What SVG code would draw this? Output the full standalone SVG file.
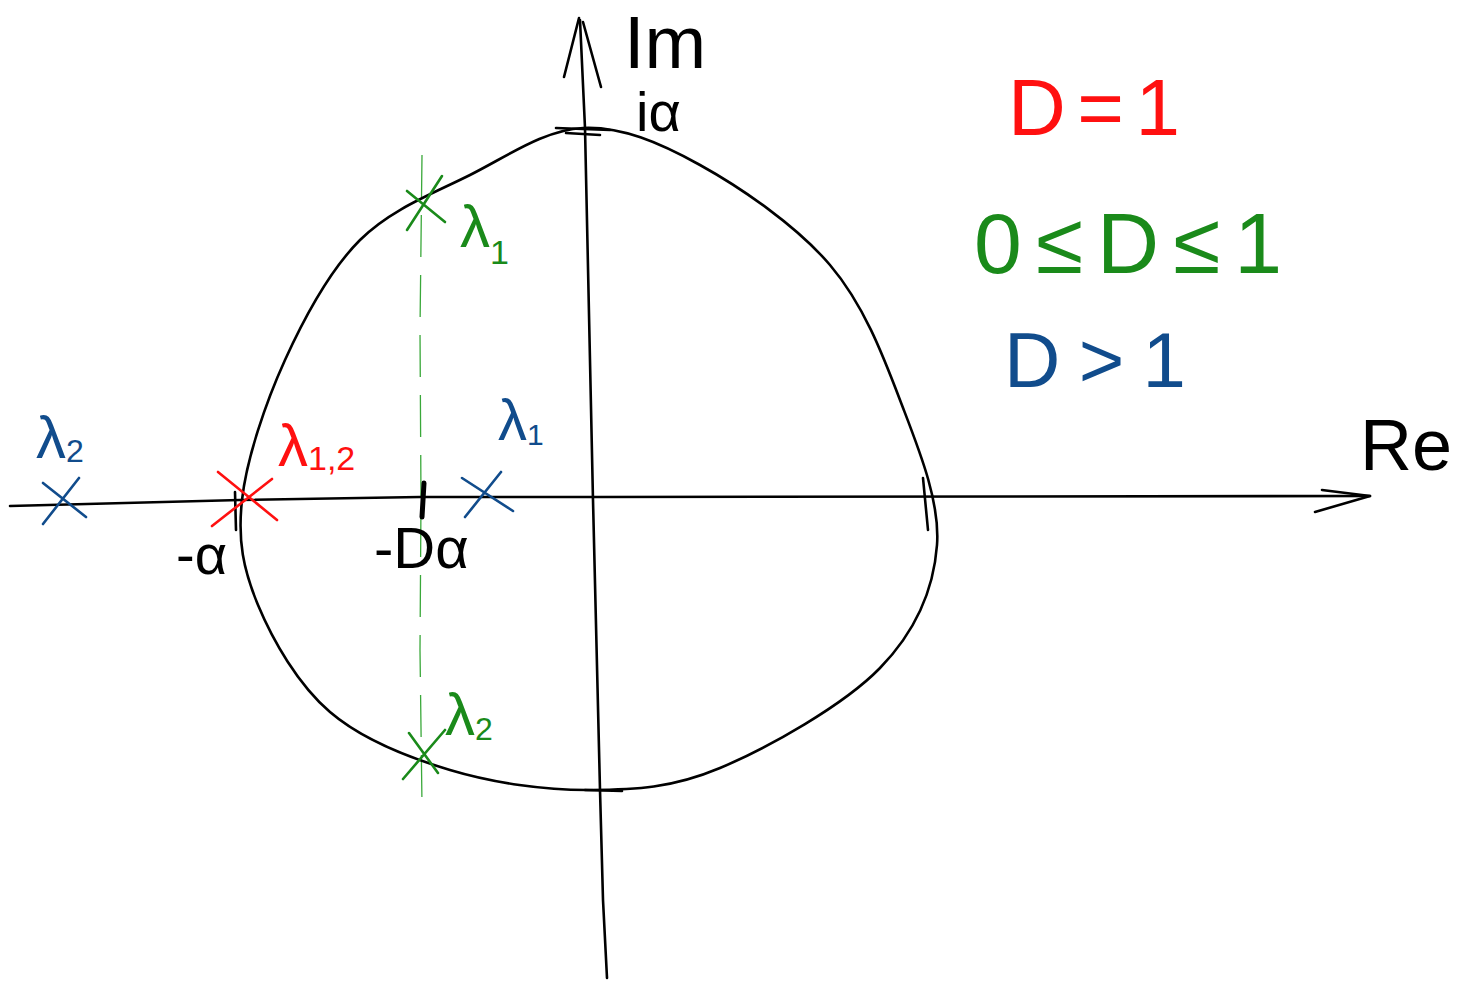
<svg xmlns="http://www.w3.org/2000/svg" width="1457" height="981" viewBox="0 0 1457 981">
<style>
.ink{fill:none;stroke:#000;stroke-width:2.6;stroke-linecap:round;stroke-linejoin:round}
.red{fill:none;stroke:#ff1010;stroke-width:2.6;stroke-linecap:round}
.grn{fill:none;stroke:#1a8a1a;stroke-width:2.6;stroke-linecap:round}
.blu{fill:none;stroke:#114c8c;stroke-width:2.6;stroke-linecap:round}
.dash{fill:none;stroke:#3aa83a;stroke-width:1.3;stroke-dasharray:42 18}
text{font-family:"Liberation Sans","DejaVu Sans",sans-serif}
.tk{fill:#000}.tr{fill:#ff1010}.tg{fill:#1a8a1a}.tb{fill:#114c8c}
</style>
<rect width="1457" height="981" fill="#fff"/>
<g id="connectors">
<path class="dash" d="M422,155 L420,330 L421,500 L420,650 L422,805"/>
<path id="real-axis" class="ink" d="M10,506 L240,500 L420,497 L600,497 L1370,496"/>
<path class="ink" d="M1322,490 L1370,496 L1315,512"/>
<path id="imag-axis" class="ink" d="M607,978 L603,900 L600,790 L593,500 L585,128 L580,20"/>
<path class="ink" d="M564,77 L579,18 M583,22 L601,87"/>
<path id="circle" class="ink" d="M583,128 C621.3,126.3 658.8,142.2 700,165 C741.2,187.8 796.7,225.8 830,265 C863.3,304.2 882.2,353.3 900,400 C917.8,446.7 940.3,500.3 937,545 C933.7,589.7 916.2,630.8 880,668 C843.8,705.2 768.3,747.7 720,768 C671.7,788.3 635,789.7 590,790 C545,790.3 493.3,783 450,770 C406.7,757 362,739.5 330,712 C298,684.5 272.7,640.3 258,605 C243.3,569.7 237.5,540.8 242,500 C246.5,459.2 265.3,403.3 285,360 C304.7,316.7 329.2,270.8 360,240 C390.8,209.2 432.8,193.7 470,175 C507.2,156.3 544.7,129.7 583,128 Z"/>
<path class="ink" d="M556,128 L610,130 M566,133 L600,135 M585,790 L622,791 M923,478 L928,530 M235,492 L236,530"/>
<path class="ink" style="stroke-width:5" d="M424,483 L422,517"/>
</g>
<g id="cross-blue-left"><path class="blu" d="M43,524 L79,478 M43,483 L86,517"/></g>
<g id="cross-red"><path class="red" d="M212,526 L272,479 M218,472 L277,520"/></g>
<g id="cross-blue-right"><path class="blu" d="M465,517 L501,472 M462,478 L513,511"/></g>
<g id="cross-green-1"><path class="grn" d="M407,230 L442,176 M407,191 L445,222"/></g>
<g id="cross-green-2"><path class="grn" d="M403,779 L445,730 M409,733 L438,773"/></g>
<g id="labels">
<text class="tk" x="624" y="68" font-size="74">Im</text>
<text class="tk" x="636" y="131" font-size="56">iα</text>
<text class="tk" x="176" y="574" font-size="56">-α</text>
<text class="tk" x="374" y="568" font-size="58">-Dα</text>
<text class="tk" x="1360" y="470" font-size="72">Re</text>
<text class="tb" x="36" y="458" font-size="60">λ<tspan font-size="32" dy="4">2</tspan></text>
<text class="tr" x="278" y="466" font-size="60">λ<tspan font-size="34" dy="4">1,2</tspan></text>
<text class="tb" x="498" y="440" font-size="58">λ<tspan font-size="30" dy="5">1</tspan></text>
<text class="tg" x="460" y="247" font-size="60">λ<tspan font-size="34" dy="17">1</tspan></text>
<text class="tg" x="445" y="735" font-size="60">λ<tspan font-size="32" dy="5">2</tspan></text>
</g>
<g id="legend">
<text class="tr" x="1008" y="135" font-size="80" textLength="172" lengthAdjust="spacing">D = 1</text>
<text class="tg" x="974" y="273" font-size="86" textLength="308" lengthAdjust="spacing">0 ≤ D ≤ 1</text>
<text class="tb" x="1004" y="387" font-size="78" textLength="182" lengthAdjust="spacing">D &gt; 1</text>
</g>
</svg>
